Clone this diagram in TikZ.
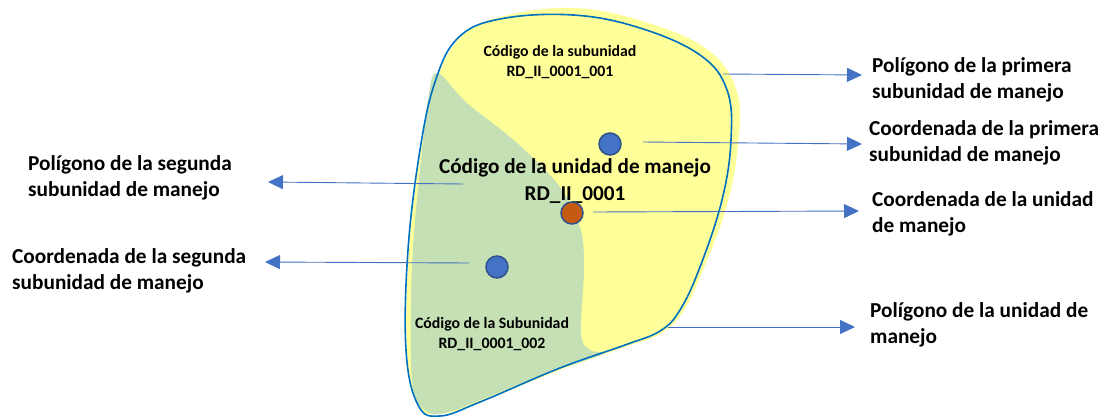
\documentclass[tikz,border=0pt]{standalone}
\usepackage{fontspec}
\setmainfont{Carlito}
\usetikzlibrary{arrows.meta}
\definecolor{lineblue}{HTML}{0070C0}
\definecolor{arrowblue}{HTML}{4472C4}
\definecolor{dotedge}{HTML}{2F528F}
\definecolor{fillyellow}{HTML}{FFFF99}
\definecolor{fillgreen}{HTML}{C5E0B4}
\definecolor{dotorange}{HTML}{C55A11}
\begin{document}
\begin{tikzpicture}[x=1pt, y=-1pt,
	label/.style = { align=left, inner sep=0pt, anchor=west, font=\fontsize{21.3}{26}\selectfont\bfseries },
	code/.style = { align=center, inner sep=0pt, font=\fontsize{15.8}{19.5}\selectfont\bfseries },
	bigcode/.style = { align=center, inner sep=0pt, font=\fontsize{21.2}{27}\selectfont\bfseries },
	dot/.style = { circle, draw=dotedge, line width=1.5pt, minimum size=22pt, inner sep=0pt },
	pointer/.style = { draw=arrowblue, line width=0.9pt, -{Triangle[length=15pt, width=14pt]} }]
	\useasboundingbox (0,0) rectangle (1103,417);
	% polygons
	\fill [fillyellow] plot [smooth cycle, tension=0.65] coordinates {
		(573,8) (645,22) (708,50) (737,92) (738,145) (727,205) (704,268)
		(683,312) (660,334) (625,347) (560,370) (480,402) (440,414) (418,405)
		(407,350) (409,250) (421,150) (436,82) (460,38) (500,17) };
	\fill [fillgreen] plot [smooth cycle, tension=0.6] coordinates {
		(437,73) (467,103) (517,143) (560,187) (580,227) (584,267)
		(581,333) (590,350) (603,354) (550,372) (500,392) (445,413)
		(422,408) (412,380) (411,300) (414,233) (421,160) (428,100) };
	\draw [lineblue, line width=1.6pt] plot [smooth cycle, tension=0.65] coordinates {
		(573,15) (640,28) (700,55) (727,90) (731,140) (722,200) (700,267)
		(680,310) (660,331) (625,345) (560,368) (480,402) (440,416) (418,405)
		(406,350) (408,250) (420,150) (435,82) (458,38) (500,19) };
	% codes
	\node [code] (sub1) at (560,62) { Código de la subunidad \\ RD\_II\_0001\_001 };
	\node [bigcode] (unit) at (575,181) { Código de la unidad de manejo \\ RD\_II\_0001 };
	\node [code] (sub2) at (492,334) { Código de la Subunidad \\ RD\_II\_0001\_002 };
	% points
	\node [dot, fill=arrowblue] (pt1) at (610,144) {};
	\node [dot, fill=dotorange] (ptunit) at (572,213) {};
	\node [dot, fill=arrowblue] (pt2) at (497,267) {};
	% labels
	\node [label] (poly1) at (872,80) { Polígono de la primera \\ subunidad de manejo };
	\node [label] (coord1) at (869,143) { Coordenada de la primera \\ subunidad de manejo };
	\node [label] (coordunit) at (872,213.5) { Coordenada de la unidad \\ de manejo };
	\node [label] (polyunit) at (870,324.5) { Polígono de la unidad de \\ manejo };
	\node [label] (poly2) at (28,177.5) { Polígono de la segunda \\ subunidad de manejo };
	\node [label] (coord2) at (12,270.5) { Coordenada de la segunda \\ subunidad de manejo };
	% arrows
	\coordinate (a1) at (723,74);
	\coordinate (b1) at (862,75);
	\coordinate (a2) at (643,142);
	\coordinate (b2) at (862,144);
	\coordinate (a3) at (593,212);
	\coordinate (b3) at (859,211);
	\coordinate (a4) at (668,327);
	\coordinate (b4) at (855,327);
	\coordinate (a5) at (463,184);
	\coordinate (b5) at (268,182);
	\coordinate (a6) at (469,263);
	\coordinate (b6) at (265,262);
	\draw [pointer] (a1) -- (b1);
	\draw [pointer] (a2) -- (b2);
	\draw [pointer] (a3) -- (b3);
	\draw [pointer] (a4) -- (b4);
	\draw [pointer] (a5) -- (b5);
	\draw [pointer] (a6) -- (b6);
\end{tikzpicture}
\end{document}
